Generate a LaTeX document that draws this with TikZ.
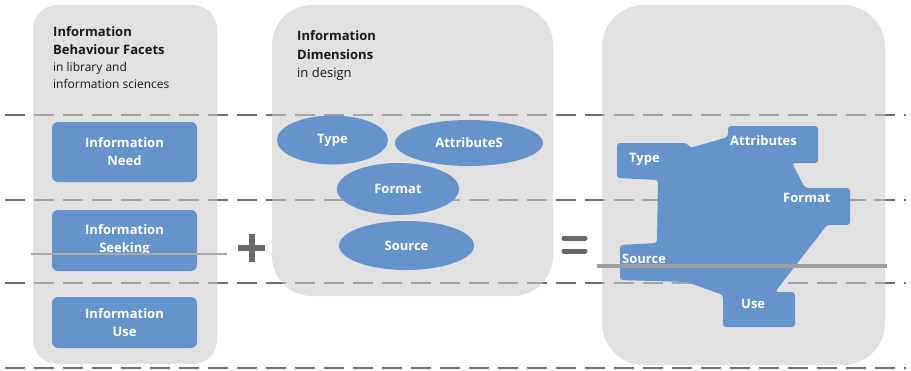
\documentclass[tikz,border=0pt]{standalone}
\usepackage{fontspec}
\setmainfont{Open Sans}
\usetikzlibrary{shapes.geometric}

\definecolor{panelgray}{RGB}{204,204,204}
\definecolor{facetblue}{RGB}{101,147,204}
\definecolor{guidegray}{RGB}{110,110,110}
\definecolor{signgray}{RGB}{104,104,104}
\definecolor{rulegray}{RGB}{172,168,162}
\definecolor{rulegrayb}{RGB}{158,158,158}

\newcommand\boldlbl{\bfseries\fontsize{13}{18}\selectfont}
\newcommand\plainlbl{\fontsize{13}{18}\selectfont}
\newcommand\smalllbl{\fontsize{12}{16}\selectfont}

\begin{document}
\begin{tikzpicture}[x=1pt,y=-1pt,
  panel/.style={fill=panelgray, fill opacity=0.59, draw=none, inner sep=0},
  facet/.style={fill=facetblue, rounded corners=6pt, text=white, font=\boldlbl,
    align=center, minimum width=145pt, inner sep=0},
  dimblob/.style={ellipse, fill=facetblue, text=white, font=\boldlbl, inner sep=0},
  tag/.style={text=white, font=\boldlbl, anchor=base west, inner sep=0},
  head/.style={font=\boldlbl, anchor=base west, inner sep=0, text=black!90},
  subhead/.style={font=\smalllbl, anchor=base west, inner sep=0, text=black!90},
  plainhead/.style={font=\plainlbl, anchor=base west, inner sep=0, text=black!90},
  guide/.style={draw=guidegray, line width=2pt, dash pattern=on 20pt off 9pt},
  sign/.style={draw=signgray, line width=6pt},
  eqbar/.style={draw=signgray, line width=5pt, line cap=round}]

\useasboundingbox (0,0) rectangle (911,370);

% horizontal dashed guides behind the panels
\foreach \gy in {115,200,283,368}
  \draw[guide] (5,\gy) -- (906,\gy);

% the three rounded panels
\node[panel, rounded corners=24pt, minimum width=184pt, minimum height=359pt] (facetpanel) at (125,184.5) {};
\node[panel, rounded corners=40pt, minimum width=281pt, minimum height=291pt] (dimpanel) at (412.5,150.5) {};
\node[panel, rounded corners=42pt, minimum width=283pt, minimum height=360pt] (resultpanel) at (743.5,185) {};

% left panel: behaviour facets
\node[head] (ft1) at (53,36) {Information};
\node[head] (ft2) at (53,54) {Behaviour Facets};
\node[subhead] (ft3) at (53,71.5) {in library and};
\node[subhead] (ft4) at (53,88) {information sciences};

\node[facet, minimum height=60pt] (need) at (124.5,152) {Information\\Need};
\node[facet, minimum height=61pt] (seeking) at (124.5,240.5) {Information\\Seeking};
\node[facet, minimum height=51pt] (use) at (124.5,322.5) {Information\\Use};

\draw[draw=rulegray, line width=2pt] (31,254) -- (227,254);

% plus sign
\draw[sign] (238,248) -- (265,248);
\draw[sign] (251.5,234) -- (251.5,262);

% middle panel: information dimensions
\node[head] (dt1) at (297,40.5) {Information};
\node[head] (dt2) at (297,59) {Dimensions};
\node[plainhead] (dt3) at (297,77.5) {in design};

\node[dimblob, minimum width=111pt, minimum height=49pt] (type) at (332.5,140) {Type};
\node[dimblob, minimum width=148pt, minimum height=46pt] (attr) at (469,143) {AttributeS};
\node[dimblob, minimum width=122pt, minimum height=52pt] (format) at (398,189) {Format};
\node[dimblob, minimum width=135pt, minimum height=49pt] (source) at (406.5,245.5) {Source};

% equals sign
\draw[eqbar] (564,238) -- (585,238);
\draw[eqbar] (564,251) -- (585,251);

% right panel: merged dimensions shape
\fill[facetblue, rounded corners=3pt]
  (617,143) -- (687,143) -- (690,148) -- (728,137) -- (728,126) -- (818,126)
  -- (818,163) -- (792,163) -- (805,188) -- (850,188) -- (850,225) -- (827,225)
  -- (775,292) -- (795,292) -- (795,327) -- (723,327) -- (723,295) -- (687,282)
  -- (620,280) -- (620,245) -- (657,243) -- (658,180) -- (617,178) -- cycle;

\node[tag] (mtype) at (629,162) {Type};
\node[tag] (mattr) at (730,145) {Attributes};
\node[tag] (mformat) at (783,202) {Format};
\node[tag] (msource) at (622,263) {Source};
\node[tag] (muse) at (741,308) {Use};

\draw[draw=rulegrayb, line width=3.5pt] (597,266) -- (887,266);

\end{tikzpicture}
\end{document}
